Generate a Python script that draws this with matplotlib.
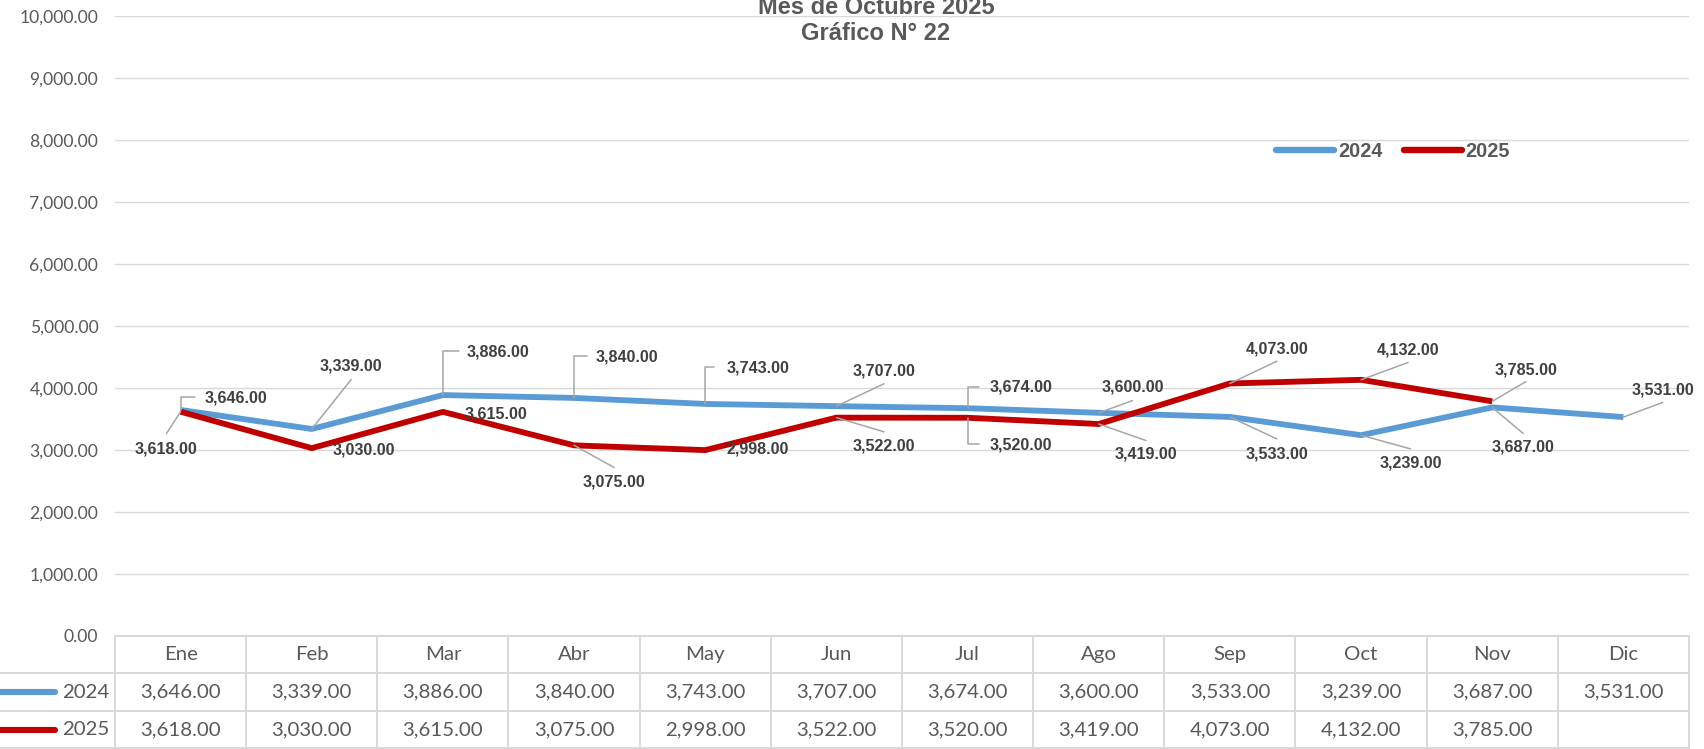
import matplotlib
matplotlib.use("Agg")
import matplotlib.pyplot as plt
import numpy as np
from matplotlib.lines import Line2D
from matplotlib.transforms import blended_transform_factory

# ---------------- data ----------------
months = ["Ene", "Feb", "Mar", "Abr", "May", "Jun", "Jul", "Ago", "Sep", "Oct", "Nov", "Dic"]
series_names = ["2024", "2025"]
values_2024 = [3646, 3339, 3886, 3840, 3743, 3707, 3674, 3600, 3533, 3239, 3687, 3531]
values_2025 = [3618, 3030, 3615, 3075, 2998, 3522, 3520, 3419, 4073, 4132, 3785, None]
title_line1 = "Mes de Octubre 2025"
title_line2 = "Gráfico N° 22"
y_ticks = list(range(0, 10001, 1000))

# ---------------- styles / layout ----------------
W, H = 1704, 749
DPI = 100
C24 = "#5B9BD5"
C25 = "#C00000"
GRID = "#D9D9D9"
TXT = "#595959"
LBL = "#404040"
LEAD = "#A6A6A6"

# label offsets in pixels (dx, dy downward), leader type, leader end offset
lay_24 = [(55, -12, "bent", 14.6, -13.2), (39, -63, "diag", 39.5, -49.5),
          (55, -43, "bent", 16.5, -44), (52.6, -41.3, "bent", 13.4, -42.2),
          (52.6, -36.3, "bent", 8.8, -37.3), (47.6, -35, "diag", 47.6, -22.4),
          (53, -20.8, "bent", 11.5, -21.5), (33.8, -25.4, "diag", 33.8, -12.2),
          (47, 36.7, "diag", 47, 22), (49.4, 27.7, "diag", 49.4, 13.7),
          (30.9, 40, "diag", 30.9, 26), (39.4, -27.3, "diag", 39.4, -14.7)]
lay_25 = [(-15, 37.6, "diag", -14.2, 22), (51.8, 1.7, None, 0, 0),
          (53, 1.7, None, 0, 0), (40, 36.3, "diag", 40, 22.1),
          (52.6, -0.7, None, 0, 0), (47.6, 28, "diag", 47.6, 14.2),
          (53, 27, "bent", 11.5, 26.4), (47.2, 30.4, "diag", 47.2, 16.5),
          (47, -34.3, "diag", 47, -22.3), (47, -30, "diag", 47, -17.3),
          (33.6, -31.7, "diag", 33.6, -19.7), None]

fig = plt.figure(figsize=(W / DPI, H / DPI), dpi=DPI)
ax_left, ax_right, ax_top, ax_bot = 115, 1689, 16, 636
ax = fig.add_axes([ax_left / W, 1 - ax_bot / H, (ax_right - ax_left) / W, (ax_bot - ax_top) / H])

x = np.arange(len(months))
v24 = np.array(values_2024, dtype=float)
v25 = np.array([np.nan if v is None else v for v in values_2025], dtype=float)

ax.set_xlim(-0.5, len(months) - 0.5)
ax.set_ylim(0, 10000)
ax.set_yticks(y_ticks)
ax.set_yticklabels([f"{t:,.2f}" for t in y_ticks], fontfamily="Lato", fontsize=12.6, color=TXT)
ax.tick_params(axis="y", length=0, pad=12)
ax.set_xticks([])
for s in ax.spines.values():
    s.set_visible(False)
ax.grid(axis="y", color=GRID, lw=1.0)
ax.set_axisbelow(True)

ax.plot(x, v24, color=C24, lw=4.2, solid_joinstyle="round", solid_capstyle="butt", label=series_names[0], zorder=3)
ax.plot(x, v25, color=C25, lw=4.2, solid_joinstyle="round", solid_capstyle="butt", label=series_names[1], zorder=3)


def add_labels(vals, lay):
    for i, v in enumerate(vals):
        if np.isnan(v) or lay[i] is None:
            continue
        dx, dy, kind, ex, ey = lay[i]
        ax.annotate(f"{v:,.2f}", xy=(i, v), xytext=(dx, -dy), textcoords="offset pixels",
                    ha="center", va="center", fontfamily="Liberation Sans", fontweight="bold",
                    fontsize=11.6, color=LBL, zorder=5)
        if kind == "diag":
            ax.annotate("", xy=(i, v), xytext=(ex, -ey), textcoords="offset pixels",
                        arrowprops=dict(arrowstyle="-", color=LEAD, lw=1.1, shrinkA=0, shrinkB=0),
                        zorder=4)
        elif kind == "bent":
            ax.annotate("", xy=(i, v), xytext=(ex, -ey), textcoords="offset pixels",
                        arrowprops=dict(arrowstyle="-", color=LEAD, lw=1.1, shrinkA=0, shrinkB=0,
                                        connectionstyle="angle,angleA=0,angleB=90,rad=0"),
                        zorder=4)


add_labels(v24, lay_24)
add_labels(v25, lay_25)

# legend
leg = ax.legend(loc="center", bbox_to_anchor=(0.812, 0.782), ncol=2, frameon=False,
                handlelength=2.9, handletextpad=0.2, columnspacing=1.1,
                prop={"family": "Liberation Sans", "weight": "bold", "size": 14.3})
for t in leg.get_texts():
    t.set_color(TXT)
for h in leg.get_lines():
    h.set_linewidth(4.6)
    h.set_solid_capstyle("round")

# titles
fig.text(876 / W, 1 - 7.6 / H, title_line1, ha="center", va="center", fontfamily="Liberation Sans",
         fontweight="bold", fontsize=17, color=TXT)
fig.text(876 / W, 1 - 33 / H, title_line2, ha="center", va="center", fontfamily="Liberation Sans",
         fontweight="bold", fontsize=17, color=TXT)

# data table
bt = blended_transform_factory(ax.transData, fig.transFigure)
rows_y = [636, 673, 711, 748]  # pixel rows from top
fy = lambda p: 1 - p / H
tbl_lw = 1.4
# horizontal lines
fig.add_artist(Line2D([-0.5, len(months) - 0.5], [fy(rows_y[0])] * 2, transform=bt, color=GRID, lw=tbl_lw))
for r in rows_y[1:]:
    fig.add_artist(Line2D([0, ax_right / W], [fy(r)] * 2, transform=fig.transFigure, color=GRID, lw=tbl_lw))
# vertical lines
for k in range(len(months) + 1):
    fig.add_artist(Line2D([k - 0.5, k - 0.5], [fy(rows_y[0]), fy(rows_y[-1])], transform=bt, color=GRID, lw=tbl_lw))

TF = dict(fontfamily="Lato", fontsize=14.7, color=TXT, ha="center", va="center")
for i, m in enumerate(months):
    fig.text(i, fy((rows_y[0] + rows_y[1]) / 2), m, transform=bt, **TF)
for r, (vals, col, name) in enumerate([(v24, C24, series_names[0]), (v25, C25, series_names[1])]):
    yc = fy((rows_y[r + 1] + rows_y[r + 2]) / 2)
    for i, v in enumerate(vals):
        if not np.isnan(v):
            fig.text(i, yc, f"{v:,.2f}", transform=bt, **TF)
    fig.add_artist(Line2D([0, 55 / W], [yc, yc], transform=fig.transFigure, color=col, lw=4.4,
                          solid_capstyle="round"))
    fig.text(109 / W, yc, name, transform=fig.transFigure, fontfamily="Lato", fontsize=14.7,
             color=TXT, ha="right", va="center")

fig.savefig("out.png", dpi=DPI)
